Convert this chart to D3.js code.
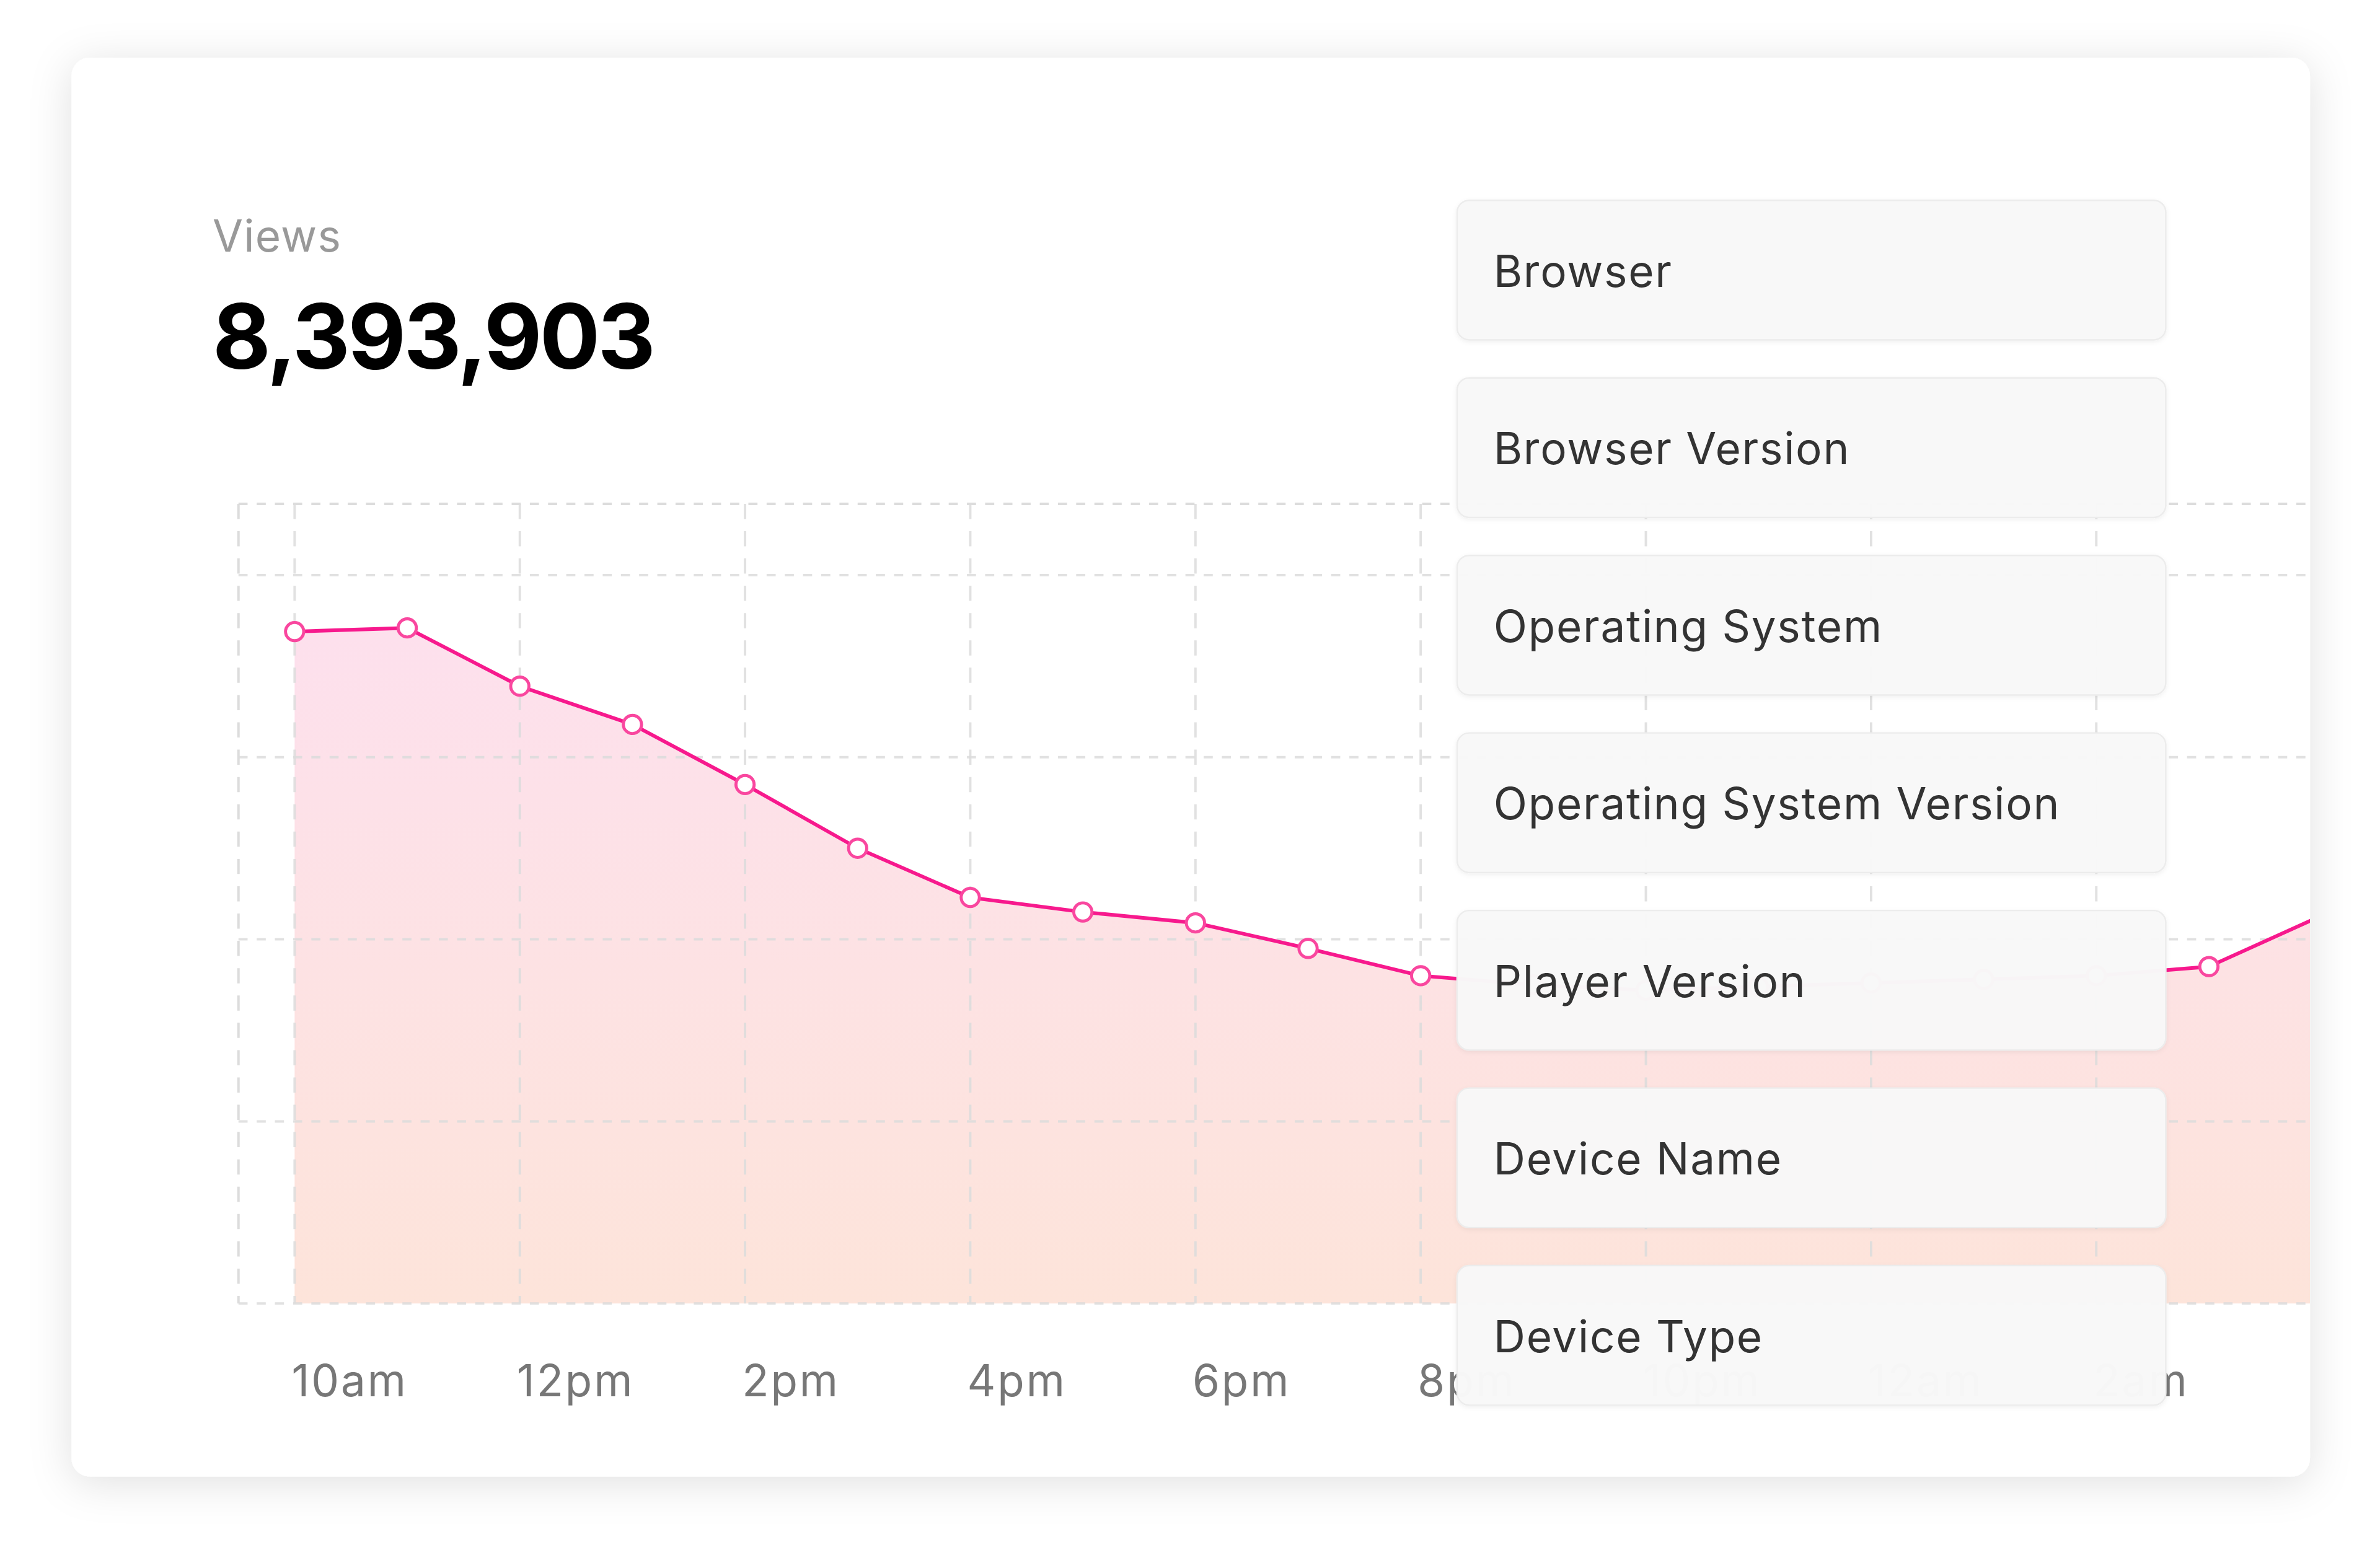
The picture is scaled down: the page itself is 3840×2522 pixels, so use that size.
<!DOCTYPE html>
<html><head><meta charset="utf-8">
<script src="https://cdn.jsdelivr.net/npm/d3@7"></script>
<style>html,body{margin:0;padding:0;background:#fff;}svg{display:block;}</style>
</head><body>
<svg id="c" width="3840" height="2522" viewBox="0 0 1568 1030"></svg>
<script>
const hours = ["10am","11am","12pm","1pm","2pm","3pm","4pm","5pm","6pm","7pm","8pm","9pm","10pm","11pm","12am","1am","2am","3am","4am"];
const tickLabels = ["10am","12pm","2pm","4pm","6pm","8pm","10pm","12am","2am"];
const views = [3.69,3.71,3.39,3.18,2.85,2.50,2.23,2.15,2.09,1.95,1.80,1.75,1.72,1.74,1.76,1.78,1.80,1.85,2.13];
const yTicks = [0,1,2,3,4];
const menuItems = ["Browser","Browser Version","Operating System","Operating System Version","Player Version","Device Name","Device Type"];
const total = "8,393,903";

const svg = d3.select("#c");
const defs = svg.append("defs");
const sh = defs.append("filter").attr("id","sh").attr("x","-10%").attr("y","-10%").attr("width","120%").attr("height","125%");
sh.append("feDropShadow").attr("dx",0).attr("dy",4).attr("stdDeviation",14).attr("flood-color","#000").attr("flood-opacity",0.12);
const sh2 = defs.append("filter").attr("id","sh2").attr("x","-10%").attr("y","-20%").attr("width","120%").attr("height","150%");
sh2.append("feDropShadow").attr("dx",0).attr("dy",1).attr("stdDeviation",1.5).attr("flood-color","#000").attr("flood-opacity",0.06);
const bl = defs.append("filter").attr("id","bl").attr("x","-20%").attr("y","-50%").attr("width","140%").attr("height","200%");
bl.append("feGaussianBlur").attr("stdDeviation",5);
const g = defs.append("linearGradient").attr("id","ag").attr("x1",0).attr("y1",0).attr("x2",0).attr("y2",1);
g.append("stop").attr("offset","0%").attr("stop-color","#fde0ed");
g.append("stop").attr("offset","100%").attr("stop-color","#fde4da");
defs.append("clipPath").attr("id","cc").append("rect").attr("x",47).attr("y",38).attr("width",1475).attr("height",935).attr("rx",12);

svg.append("rect").attr("x",47).attr("y",38).attr("width",1475).attr("height",935).attr("rx",12).attr("fill","#fff").attr("filter","url(#sh)");

const root = svg.append("g").attr("clip-path","url(#cc)");
const font = "Inter, 'Noto Sans', sans-serif";

root.append("text").attr("x",140).attr("y",166).attr("font-family",font).attr("font-size",29).attr("fill","#999").attr("letter-spacing",0.5).text("Views");
root.append("text").attr("x",140).attr("y",243).attr("font-family",font).attr("font-size",59).attr("font-weight",700).attr("fill","#000").attr("letter-spacing",-1.5).text(total);

const x = d3.scalePoint().domain(hours).range([194,194+74.2*18]);
const y = d3.scaleLinear().domain([0,4]).range([859,379]);

root.append("path").datum(views).attr("fill","url(#ag)")
  .attr("d", d3.area().x((d,i)=>x(hours[i])).y0(y(0)).y1(d=>y(d)));

const gc = "#dcdcdc";
root.append("g").selectAll("line").data(yTicks).join("line")
  .attr("x1",157).attr("x2",1530).attr("y1",d=>y(d)).attr("y2",d=>y(d))
  .attr("stroke",gc).attr("stroke-width",1.6).attr("stroke-dasharray","6,6").attr("opacity",0.85);
root.append("line").attr("x1",157).attr("x2",1530).attr("y1",332).attr("y2",332).attr("stroke",gc).attr("stroke-width",1.6).attr("stroke-dasharray","6,6");
root.append("line").attr("x1",157).attr("x2",157).attr("y1",332).attr("y2",859).attr("stroke",gc).attr("stroke-width",1.6).attr("stroke-dasharray","10,8");
root.append("g").selectAll("line").data(tickLabels).join("line")
  .attr("x1",d=>x(d)).attr("x2",d=>x(d)).attr("y1",332).attr("y2",859)
  .attr("stroke",gc).attr("stroke-width",1.6).attr("stroke-dasharray","10,8").attr("opacity",0.85);

root.append("path").datum(views).attr("fill","none").attr("stroke","#f7198d").attr("stroke-width",2.4)
  .attr("d", d3.line().x((d,i)=>x(hours[i])).y(d=>y(d)));
root.append("g").selectAll("circle").data(views).join("circle")
  .attr("cx",(d,i)=>x(hours[i])).attr("cy",d=>y(d)).attr("r",6)
  .attr("fill","#fff").attr("stroke","#f9479f").attr("stroke-width",2);

// x labels (those behind the menu are blurred by it)
root.append("g").selectAll("text").data(tickLabels).join("text")
  .attr("x",d=>x(d)-2).attr("y",920).attr("font-family",font).attr("font-size",29).attr("letter-spacing",1.2).attr("fill","#777")
  .text(d=>d);

// menu with blurred backdrop
const mg = root.append("g").selectAll("g").data(menuItems).join("g")
  .attr("transform",(d,i)=>`translate(960,${132+i*117})`);
mg.append("rect").attr("width",467).attr("height",92).attr("rx",8)
  .attr("fill","#f8f8f8").attr("fill-opacity",0.985).attr("stroke","#ececec").attr("stroke-width",1).attr("filter","url(#sh2)");
mg.append("text").attr("x",24).attr("y",57).attr("font-family",font).attr("font-size",29).attr("letter-spacing",0.7).attr("fill","#333").text(d=>d);
</script>
</body></html>
